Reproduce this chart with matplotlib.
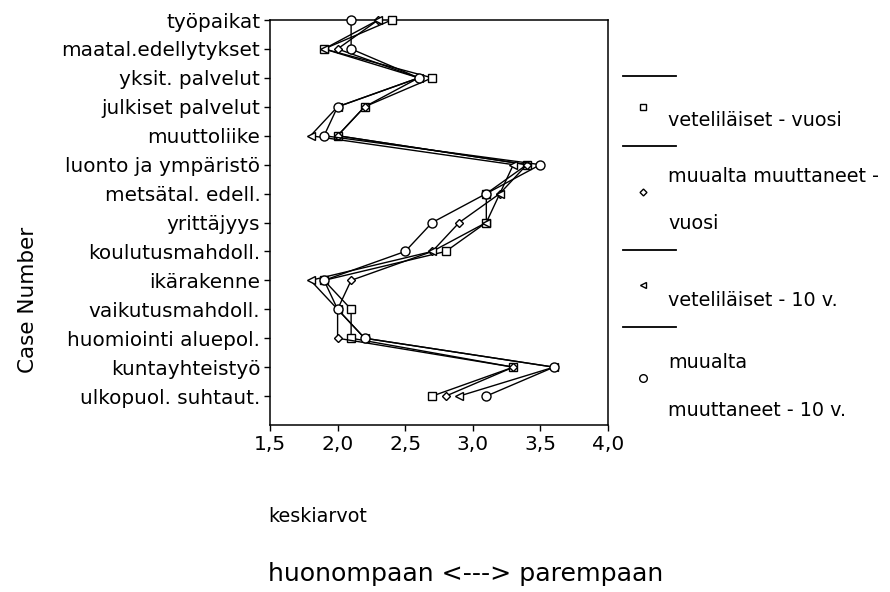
import matplotlib
matplotlib.use('Agg')
import matplotlib.pyplot as plt
from matplotlib.lines import Line2D

categories = ['työpaikat', 'maatal.edellytykset', 'yksit. palvelut', 'julkiset palvelut',
              'muuttoliike', 'luonto ja ympäristö', 'metsätal. edell.', 'yrittäjyys',
              'koulutusmahdoll.', 'ikärakenne', 'vaikutusmahdoll.', 'huomiointi aluepol.',
              'kuntayhteistyö', 'ulkopuol. suhtaut.']

vet_vuosi = [2.4, 1.9, 2.7, 2.2, 2.0, 3.4, 3.1, 3.1, 2.8, 1.9, 2.1, 2.1, 3.3, 2.7]
muu_vuosi = [2.3, 2.0, 2.6, 2.2, 2.0, 3.4, 3.2, 2.9, 2.7, 2.1, 2.0, 2.0, 3.3, 2.8]
vet_10v = [2.3, 1.9, 2.6, 2.0, 1.8, 3.3, 3.2, 3.1, 2.7, 1.8, 2.0, 2.2, 3.6, 2.9]
muu_10v = [2.1, 2.1, 2.6, 2.0, 1.9, 3.5, 3.1, 2.7, 2.5, 1.9, 2.0, 2.2, 3.6, 3.1]

series_labels = [['veteliläiset - vuosi'],
                 ['muualta muuttaneet -', 'vuosi'],
                 ['veteliläiset - 10 v.'],
                 ['muualta', 'muuttaneet - 10 v.']]
xticks = [1.5, 2.0, 2.5, 3.0, 3.5, 4.0]
xtick_labels = ['1,5', '2,0', '2,5', '3,0', '3,5', '4,0']

W, H = 890, 592
fig = plt.figure(figsize=(W / 100, H / 100), dpi=100)
ax = fig.add_axes([270 / W, 1 - 425 / H, (608 - 270) / W, (425 - 20) / H])

rows = list(range(len(categories)))
series = [(vet_vuosi, 's', 5.5), (muu_vuosi, 'D', 4.5), (vet_10v, '<', 5.5), (muu_10v, 'o', 6.5)]
for values, marker, ms in series:
    ax.plot(values, rows, color='black', linewidth=1.0, marker=marker, markersize=ms,
            markerfacecolor='white', markeredgecolor='black', markeredgewidth=1.0,
            clip_on=False, zorder=3)

ax.set_xlim(1.5, 4.0)
ax.set_ylim(len(categories), 0)
ax.set_xticks(xticks)
ax.set_xticklabels(xtick_labels, fontsize=14.5)
ax.set_yticks(rows)
ax.set_yticklabels(categories, fontsize=14.4)
ax.tick_params(axis='both', direction='out', length=4, width=1, pad=3)
for sp in ax.spines.values():
    sp.set_linewidth(1.1)

# axis titles
fig.text(28 / W, 1 - 300 / H, 'Case Number', rotation=90, fontsize=15.5,
         ha='center', va='center')
fig.text(268 / W, 1 - 516 / H, 'keskiarvot', fontsize=13.8, ha='left', va='center')
fig.text(268 / W, 1 - 574 / H, 'huonompaan <---> parempaan', fontsize=18.2,
         ha='left', va='center')

# legend: line segment above each entry, marker and label below
legend_lines = [76, 146, 250, 327]
legend_markers = [107, 192, 285, 378]
legend_text = [[121], [177, 223], [300], [362, 410]]
for (values, marker, ms), ly, my, labels, ty in zip(series, legend_lines, legend_markers,
                                                      series_labels, legend_text):
    fig.add_artist(Line2D([623 / W, 676 / W], [1 - ly / H, 1 - ly / H],
                          color='black', linewidth=1.3))
    fig.add_artist(Line2D([643 / W], [1 - my / H], marker=marker, markersize=ms - 1,
                          markerfacecolor='white', markeredgecolor='black',
                          markeredgewidth=1.0, linestyle='None'))
    for text, y in zip(labels, ty):
        fig.text(668 / W, 1 - y / H, text, fontsize=13.8, ha='left', va='center')

fig.savefig('out.png', dpi=100)
